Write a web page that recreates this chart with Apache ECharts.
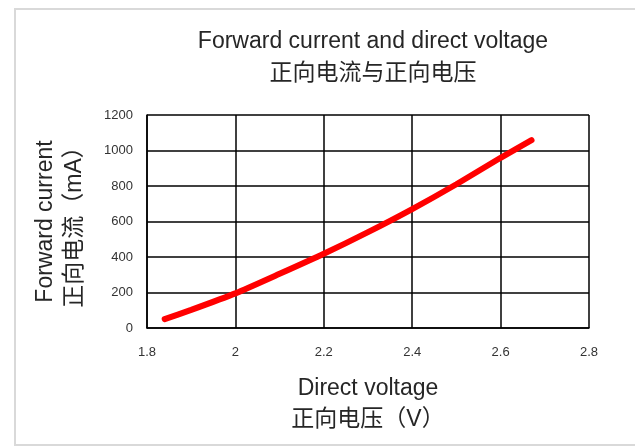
<!DOCTYPE html>
<html>
<head>
<meta charset="utf-8">
<script src="https://cdn.jsdelivr.net/npm/echarts@6/dist/echarts.min.js"></script>
<style>
html,body{margin:0;padding:0;background:#fff;}
#main{width:635px;height:447px;}
</style>
</head>
<body>
<div id="main"></div>
<script>
// Data
const voltage = [1.84, 1.9, 2.0, 2.1, 2.2, 2.3, 2.4, 2.5, 2.6, 2.67];
const current = [50, 102, 195, 305, 418, 540, 670, 810, 959, 1058];
const titleLines = ['Forward current and direct voltage', '正向电流与正向电压'];
const xNameLines = ['Direct voltage', '正向电压（V）'];
const yNameLines = ['Forward current', '正向电流（mA）'];
const xRange = [1.8, 2.8, 0.2];
const yRange = [0, 1200, 200];

const FONT = '"Liberation Sans", "Noto Sans CJK SC", sans-serif';
const chart = echarts.init(document.getElementById('main'), null, {renderer: 'canvas'});
const seriesData = voltage.map((v, i) => [v, current[i]]);

chart.setOption({
  backgroundColor: '#ffffff',
  animation: false,
  graphic: [{
    type: 'rect',
    shape: {x: 15, y: 9, width: 640, height: 436},
    style: {fill: 'none', stroke: '#d9d9d9', lineWidth: 2},
    silent: true
  }],
  title: {
    text: titleLines.join('\n'),
    left: 368,
    textAlign: 'center',
    top: 21,
    textStyle: {
      fontFamily: FONT, fontSize: 23, fontWeight: 'normal', color: '#262626', lineHeight: 32
    }
  },
  grid: {left: 147, right: 46, top: 115, bottom: 119},
  xAxis: {
    type: 'value',
    min: xRange[0], max: xRange[1], interval: xRange[2],
    name: xNameLines.join('\n'),
    nameLocation: 'middle',
    nameGap: 45,
    nameTextStyle: {fontFamily: FONT, fontSize: 23, color: '#262626', lineHeight: 31, verticalAlign: 'top'},
    axisLine: {show: true, lineStyle: {color: '#000', width: 1.5}},
    axisTick: {show: false},
    axisLabel: {
      fontFamily: FONT, fontSize: 13, color: '#333', margin: 18,
      formatter: v => String(Math.round(v * 10) / 10)
    },
    splitLine: {show: true, lineStyle: {color: '#000', width: 1.5}}
  },
  yAxis: {
    type: 'value',
    min: yRange[0], max: yRange[1], interval: yRange[2],
    name: yNameLines.join('\n'),
    nameLocation: 'middle',
    nameGap: 58,
    nameRotate: 90,
    nameTextStyle: {fontFamily: FONT, fontSize: 23, color: '#262626', lineHeight: 29},
    axisLine: {show: true, lineStyle: {color: '#000', width: 1.5}},
    axisTick: {show: false},
    axisLabel: {fontFamily: FONT, fontSize: 13, color: '#333', margin: 14, formatter: v => String(v)},
    splitLine: {show: true, lineStyle: {color: '#000', width: 1.5}}
  },
  series: [{
    type: 'line',
    data: seriesData,
    smooth: 0.2,
    showSymbol: false,
    lineStyle: {color: '#ff0000', width: 6, cap: 'round'},
    itemStyle: {color: '#ff0000'}
  }]
});
</script>
</body>
</html>
